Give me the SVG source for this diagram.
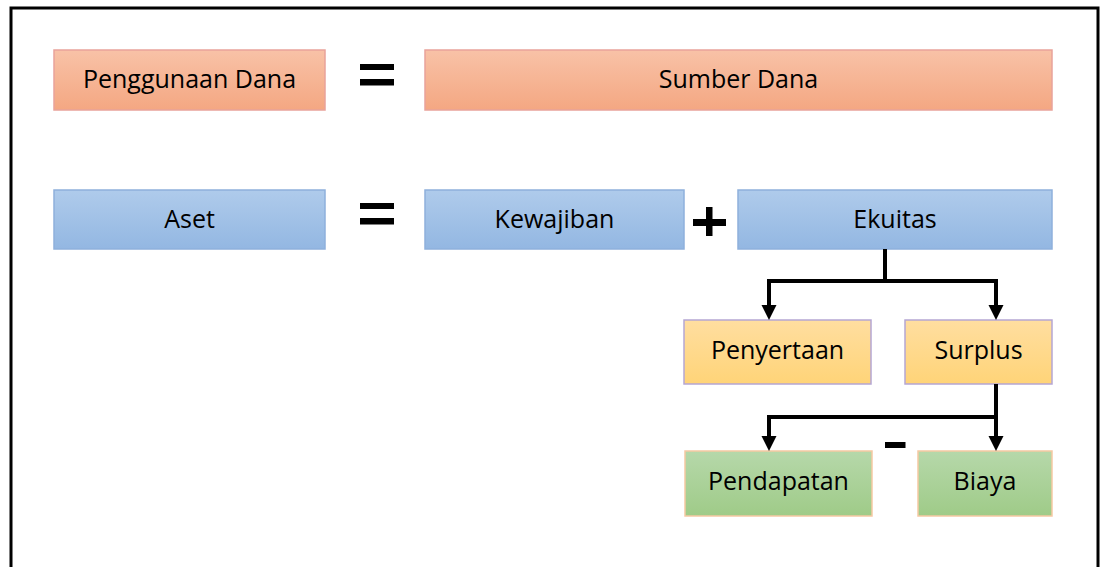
<svg xmlns="http://www.w3.org/2000/svg" width="1104" height="567" viewBox="0 0 1104 567">
<defs>
<linearGradient id="gO" x1="0" y1="0" x2="0" y2="1"><stop offset="0" stop-color="#f8c2a7"/><stop offset="1" stop-color="#f4a782"/></linearGradient>
<linearGradient id="gB" x1="0" y1="0" x2="0" y2="1"><stop offset="0" stop-color="#afcbeb"/><stop offset="1" stop-color="#93b7e2"/></linearGradient>
<linearGradient id="gY" x1="0" y1="0" x2="0" y2="1"><stop offset="0" stop-color="#ffdea0"/><stop offset="1" stop-color="#ffd478"/></linearGradient>
<linearGradient id="gG" x1="0" y1="0" x2="0" y2="1"><stop offset="0" stop-color="#b6d8aa"/><stop offset="1" stop-color="#9fcb88"/></linearGradient>
</defs>
<style>
text{font-family:"Open Sans","Liberation Sans",sans-serif;font-size:25px;fill:#000;text-anchor:middle;dominant-baseline:central}
.o{fill:url(#gO);stroke:#e9a39a;stroke-width:1.5}
.b{fill:url(#gB);stroke:#8eb0dc;stroke-width:1.5}
.y{fill:url(#gY);stroke:#b5a6d4;stroke-width:1.5}
.g{fill:url(#gG);stroke:#f6c9a3;stroke-width:1.5}
.ln{fill:none;stroke:#000;stroke-width:4}
.sym,.ah{fill:#000}
</style>
<rect x="0" y="0" width="1104" height="567" fill="#fff"/>
<rect x="11" y="8" width="1087" height="570" fill="none" stroke="#000" stroke-width="3"/>
<g id="penggunaan"><rect class="o" x="54" y="50" width="271" height="60"/><text x="189.5" y="78">Penggunaan Dana</text></g>
<g id="sumber"><rect class="o" x="425" y="50" width="627" height="60"/><text x="738.5" y="78">Sumber Dana</text></g>
<g id="aset"><rect class="b" x="54" y="190" width="271" height="59"/><text x="189.5" y="218">Aset</text></g>
<g id="kewajiban"><rect class="b" x="425" y="190" width="259" height="59"/><text x="554.5" y="218">Kewajiban</text></g>
<g id="ekuitas"><rect class="b" x="738" y="190" width="314" height="59"/><text x="895" y="218">Ekuitas</text></g>
<g id="penyertaan"><rect class="y" x="684" y="320" width="187" height="64"/><text x="777.5" y="349">Penyertaan</text></g>
<g id="surplus"><rect class="y" x="905" y="320" width="147" height="64"/><text x="978.5" y="349">Surplus</text></g>
<g id="pendapatan"><rect class="g" x="685" y="451" width="187" height="65"/><text x="778.5" y="480">Pendapatan</text></g>
<g id="biaya"><rect class="g" x="918" y="451" width="134" height="65"/><text x="985" y="480">Biaya</text></g>
<g id="symbols">
<rect class="sym" x="360" y="64" width="34" height="6"/><rect class="sym" x="360" y="79" width="34" height="6.5"/>
<rect class="sym" x="360" y="203" width="34" height="6"/><rect class="sym" x="360" y="218" width="34" height="6.5"/>
<rect class="sym" x="693" y="219" width="33" height="7"/><rect class="sym" x="706" y="207" width="6.5" height="29"/>
<rect class="sym" x="885" y="442" width="20.5" height="6"/>
</g>
<g id="connectors">
<path class="ln" d="M885,249 V281"/>
<path class="ln" d="M885,281 H769 V306"/>
<path class="ln" d="M885,281 H996 V306"/>
<path class="ln" d="M996,384 V437"/>
<path class="ln" d="M996,417 H769 V437"/>
<polygon class="ah" points="761.5,305 776.5,305 769,320"/>
<polygon class="ah" points="988.5,305 1003.5,305 996,320"/>
<polygon class="ah" points="761.5,436 776.5,436 769,451"/>
<polygon class="ah" points="988.5,436 1003.5,436 996,451"/>
</g>
</svg>
